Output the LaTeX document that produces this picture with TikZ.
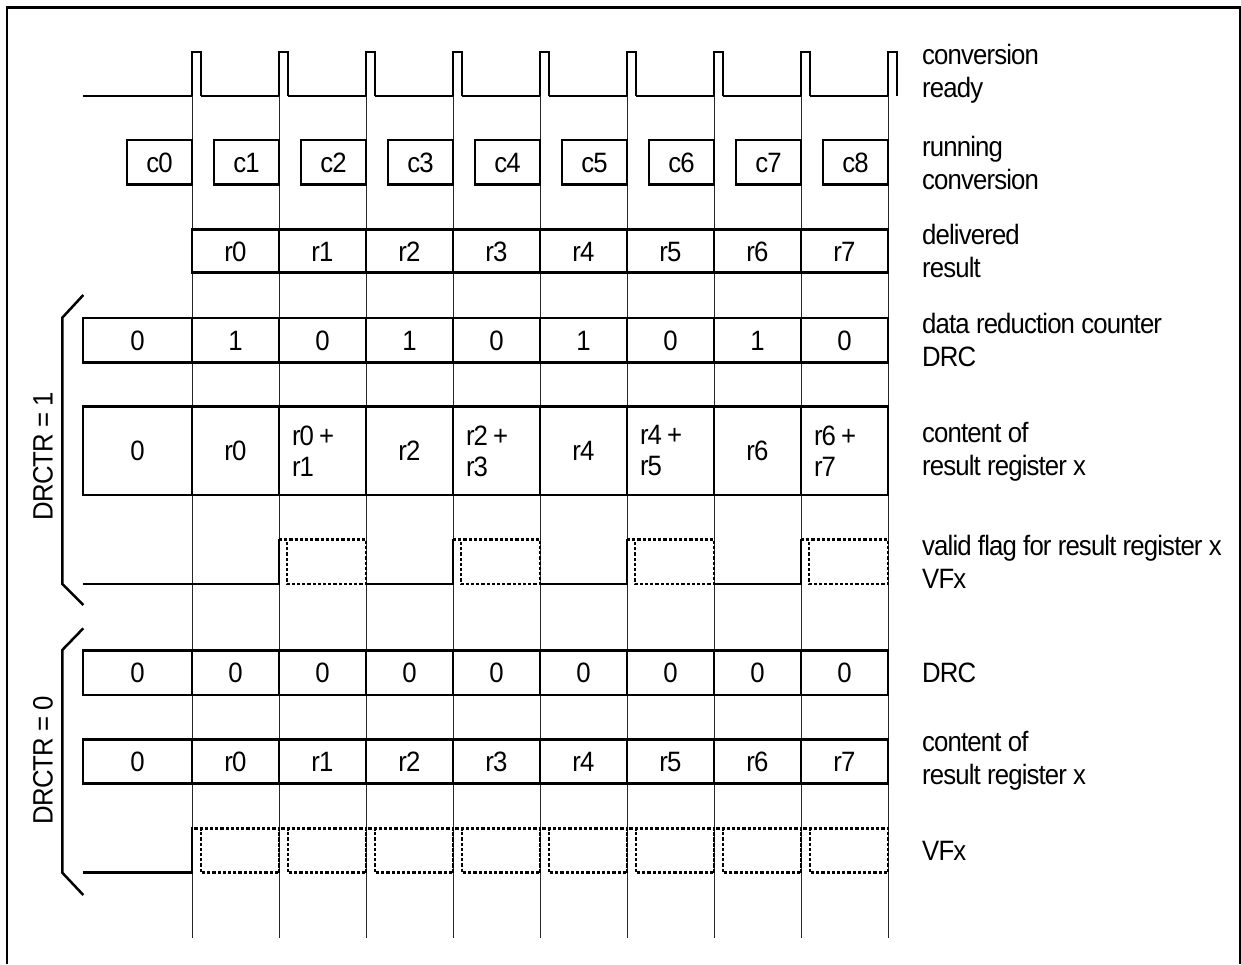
\documentclass[tikz,border=0pt]{standalone}
\usepackage{fontspec}
\setmainfont{Liberation Sans}[FakeStretch=0.92,LetterSpace=-3.1]
\begin{document}
\begin{tikzpicture}[x=1pt,y=-1pt,
  font=\fontsize{28}{33}\selectfont,
  wave/.style={line width=2.5pt, line join=miter},
  gridline/.style={line width=1pt, draw=black!85},
  cell/.style={draw, line width=2.6pt, inner sep=0pt, minimum width=87pt},
  onecell/.style={cell, text height=20pt, text depth=0pt},
  dotbox/.style={line width=2.8pt, dash pattern=on 3.2pt off 2pt},
  lbl/.style={anchor=west, align=left, inner sep=0pt},
  brace/.style={line width=2.5pt},
]
\useasboundingbox (0,0) rectangle (1241,964);
% frame
\draw[line width=2.4pt] (6.7,964) -- (6.7,7.3) -- (1240,7.3) -- (1240,964);
% grid lines
\foreach \i in {0,...,8} \draw[gridline] (192+87*\i,52) -- (192+87*\i,938);
% conversion ready
\draw[wave] (83,96) -- (192,96);
\foreach \i in {0,...,8} \draw[wave] (192+87*\i,96) -- (192+87*\i,52) -- (201+87*\i,52) -- (201+87*\i,96);
\foreach \i in {0,...,7} \draw[wave] (201+87*\i,96) -- (279+87*\i,96);
% running conversion
\foreach \k in {0,...,8} \node[onecell, minimum width=65pt, minimum height=44.3pt] (c\k) at (159.5+87*\k,162.3) {c\k};
% delivered result
\foreach \k [count=\n] in {0,...,7} \node[onecell, minimum height=43.4pt] (r\k) at (148.5+87*\n,251) {r\k};
% ---- DRCTR = 1 ----
\node[onecell, minimum width=109pt, minimum height=44.4pt] (dA0) at (137.5,340) {0};
\foreach \v [count=\n] in {1,0,1,0,1,0,1,0} \node[onecell, minimum height=44.4pt] (dA\n) at (148.5+87*\n,340) {\v};
\node[onecell, minimum width=109pt, minimum height=88.3pt] (cA0) at (137.5,450.9) {0};
\foreach \n/\p in {1/0,3/2,5/4,7/6} \node[onecell, minimum height=88.3pt] (cA\n) at (148.5+87*\n,450.9) {r\p};
\foreach \n/\p/\q in {2/0/1,4/2/3,6/4/5,8/6/7} \node[cell, minimum height=88.3pt, text width=61pt, align=left] (cA\n) at (148.5+87*\n,450.9) {r\p\hspace{5pt}+\\[-2pt]r\q};
% VFx (DRCTR=1)
\draw[wave] (83,584) -- (279,584) -- (279,539.3);
\foreach \i in {3,5,7} \draw[wave] (105+87*\i,584) -- (192+87*\i,584) -- (192+87*\i,539.3);
\foreach \i in {1,3,5,7} \draw[dotbox] (192+87*\i,539.3) -- (279+87*\i,539.3) -- (279+87*\i,584) -- (200+87*\i,584) -- (200+87*\i,540.5);
% brace and label
\draw[brace] (83.3,295) -- (62.3,317.7) -- (62.3,584) -- (83.3,605);
\node[rotate=90, inner sep=0pt] (drctr1) at (43,456) {DRCTR = 1};
% ---- DRCTR = 0 ----
\node[onecell, minimum width=109pt, minimum height=44.3pt] (dB0) at (137.5,672.9) {0};
\foreach \n in {1,...,8} \node[onecell, minimum height=44.3pt] (dB\n) at (148.5+87*\n,672.9) {0};
\node[onecell, minimum width=109pt, minimum height=44pt] (cB0) at (137.5,761.3) {0};
\foreach \k [count=\n] in {0,...,7} \node[onecell, minimum height=44pt] (cB\n) at (148.5+87*\n,761.3) {r\k};
% VFx (DRCTR=0)
\draw[wave] (83,872.7) -- (192,872.7) -- (192,828.3);
\foreach \i in {0,...,7} \draw[dotbox] (192+87*\i,872.7) -- (192+87*\i,828.3) -- (279+87*\i,828.3) -- (279+87*\i,872.7) -- (201+87*\i,872.7) -- (201+87*\i,829.5);
\draw[brace] (83.3,628.3) -- (62.3,650) -- (62.3,872.7) -- (83.3,895);
\node[rotate=90, inner sep=0pt] (drctr0) at (43,760) {DRCTR = 0};
% right-hand labels
\node[lbl] (l1) at (922,74) {conversion\\ready};
\node[lbl] (l2) at (922,162.5) {running\\conversion};
\node[lbl] (l3) at (922,251) {delivered\\result};
\node[lbl] (l4) at (922,339.5) {data reduction counter\\DRC};
\node[lbl] (l5) at (922,452) {content of\\result register x};
\node[lbl] (l6) at (922,562) {valid flag for result register x\\VFx};
\node[lbl] (l7) at (922,672.5) {DRC};
\node[lbl] (l8) at (922,761) {content of\\result register x};
\node[lbl] (l9) at (922,851) {VFx};
\end{tikzpicture}
\end{document}
